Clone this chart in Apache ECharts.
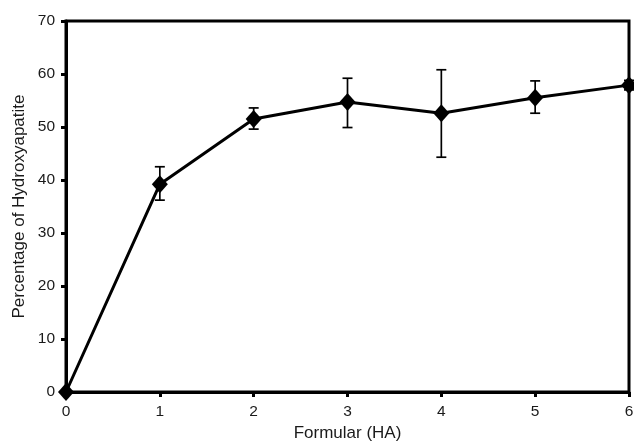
<!DOCTYPE html>
<html>
<head>
<meta charset="utf-8">
<script src="https://cdn.jsdelivr.net/npm/echarts@6/dist/echarts.min.js"></script>
<style>html,body{margin:0;padding:0;background:#fff}#c{width:634px;height:442px}</style>
</head>
<body>
<div id="c"></div>
<script>
const formular = [0, 1, 2, 3, 4, 5, 6];
const percentHA = [0, 39.2, 51.5, 54.7, 52.6, 55.5, 57.9];
const errLow = [0, 36.2, 49.6, 49.9, 44.3, 52.6, 57.0];
const errHigh = [0, 42.5, 53.6, 59.2, 60.8, 58.7, 58.8];
const yTicks = [0, 10, 20, 30, 40, 50, 60, 70];

const chart = echarts.init(document.getElementById('c'));
const font = '"Liberation Sans", Arial, sans-serif';
chart.setOption({
  animation: false,
  grid: {left: 66, right: 5, top: 21, bottom: 50, containLabel: false, outerBoundsMode: 'none',
    show: true, borderColor: '#000', borderWidth: 3, backgroundColor: 'transparent'},
  xAxis: {
    type: 'value', min: 0, max: 6, interval: 1,
    name: 'Formular (HA)', nameLocation: 'middle', nameGap: 33, nameMoveOverlap: false,
    nameTextStyle: {fontFamily: font, fontSize: 17, color: '#1a1a1a'},
    axisLine: {lineStyle: {color: '#000', width: 3}},
    axisTick: {show: true, length: 5, lineStyle: {color: '#000', width: 3}},
    axisLabel: {fontFamily: font, fontSize: 15.5, color: '#1a1a1a', margin: 12},
    splitLine: {show: false}
  },
  yAxis: {
    type: 'value', min: 0, max: 70, interval: 10,
    name: 'Percentage of Hydroxyapatite', nameLocation: 'middle', nameGap: 38, nameMoveOverlap: false,
    nameTextStyle: {fontFamily: font, fontSize: 17, color: '#1a1a1a'},
    axisLine: {show: true, lineStyle: {color: '#000', width: 3}},
    axisTick: {show: true, length: 5, lineStyle: {color: '#000', width: 3}},
    axisLabel: {fontFamily: font, fontSize: 15.5, color: '#1a1a1a', margin: 11,
      formatter: v => yTicks.includes(v) ? String(v) : ''},
    splitLine: {show: false}
  },
  series: [
    {
      type: 'custom',
      clip: false,
      data: formular.map((x, i) => [x, errLow[i], errHigh[i]]),
      renderItem: function (params, api) {
        const x = api.value(0);
        const lo = api.coord([x, api.value(1)]);
        const hi = api.coord([x, api.value(2)]);
        const hw = 5;
        const style = {stroke: '#000', lineWidth: 1.7, fill: null};
        return {
          type: 'group',
          children: [
            {type: 'line', shape: {x1: lo[0], y1: lo[1], x2: hi[0], y2: hi[1]}, style},
            {type: 'line', shape: {x1: lo[0] - hw, y1: lo[1], x2: lo[0] + hw, y2: lo[1]}, style},
            {type: 'line', shape: {x1: hi[0] - hw, y1: hi[1], x2: hi[0] + hw, y2: hi[1]}, style}
          ]
        };
      },
      z: 3
    },
    {
      type: 'line',
      clip: false,
      data: formular.map((x, i) => [x, percentHA[i]]),
      symbol: 'diamond',
      symbolSize: [16, 18],
      itemStyle: {color: '#000'},
      lineStyle: {color: '#000', width: 3},
      z: 4
    }
  ]
});
</script>
</body>
</html>
